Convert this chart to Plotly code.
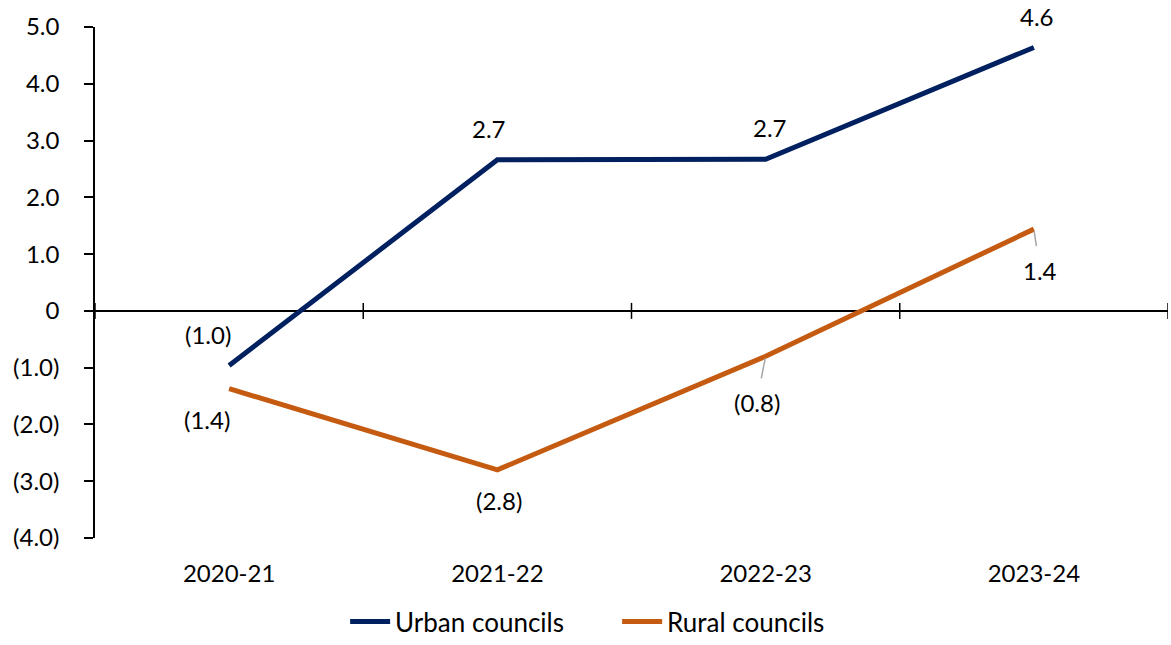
import plotly.graph_objects as go

# Financial years on the x axis
years = ["2020-21", "2021-22", "2022-23", "2023-24"]

# Net result by council type
urban = [-0.96, 2.66, 2.67, 4.64]
rural = [-1.37, -2.80, -0.80, 1.44]

# Y axis ticks, negatives shown in brackets
y_ticks = [5, 4, 3, 2, 1, 0, -1, -2, -3, -4]
y_tick_text = ["5.0", "4.0", "3.0", "2.0", "1.0", "0", "(1.0)", "(2.0)", "(3.0)", "(4.0)"]

NAVY = "#002060"
ORANGE = "#C55A11"
FONT = "Lato, Open Sans, sans-serif"
SIZE = 24


def fmt(v):
    s = f"{abs(v):.1f}"
    return f"({s})" if v < 0 else s


fig = go.Figure()
fig.add_trace(go.Scatter(x=years, y=urban, mode="lines", name="Urban councils",
                         line=dict(color=NAVY, width=5)))
fig.add_trace(go.Scatter(x=years, y=rural, mode="lines", name="Rural councils",
                         line=dict(color=ORANGE, width=5)))

# Data label offsets (pixels) and whether a leader line is drawn
urban_off = [(-21, -31, False), (-8, -31, False), (4, -32, False), (3, -31, False)]
rural_off = [(-22, 31, False), (2, 31, False), (-9, 46, True), (6, 41, True)]

annotations = []
for series, offs in ((urban, urban_off), (rural, rural_off)):
    for x, v, (dx, dy, leader) in zip(years, series, offs):
        if leader:
            annotations.append(dict(
                x=x, y=v, xref="x", yref="y", text=fmt(v), showarrow=True,
                ax=dx, ay=dy, arrowhead=0, arrowwidth=1.5, arrowcolor="#A6A6A6",
                standoff=2, startstandoff=8,
                font=dict(family=FONT, size=SIZE, color="#000000")))
        else:
            annotations.append(dict(
                x=x, y=v, xref="x", yref="y", text=fmt(v), showarrow=False,
                xshift=dx, yshift=-dy,
                font=dict(family=FONT, size=SIZE, color="#000000")))

# Cross-style tick marks on the zero line at category boundaries
shapes = []
for b in [i - 0.5 for i in range(len(years) + 1)]:
    shapes.append(dict(type="line", xref="x", yref="y", x0=b, x1=b,
                       ysizemode="pixel", yanchor=0, y0=-8, y1=8,
                       line=dict(color="#000000", width=1.5)))

fig.update_layout(
    width=1171, height=645,
    margin=dict(l=95, r=3, t=27, b=107),
    paper_bgcolor="white", plot_bgcolor="white",
    font=dict(family=FONT, size=SIZE, color="#000000"),
    showlegend=True,
    legend=dict(orientation="h", xref="container", x=0.527, xanchor="center",
                yref="container", y=0.0, yanchor="bottom",
                font=dict(family=FONT, size=26, color="#000000"),
                entrywidth=217, entrywidthmode="pixels",
                itemwidth=40, tracegroupgap=0),
    annotations=annotations,
    shapes=shapes,
)

fig.update_xaxes(type="category", range=[-0.5, 3.5], showline=False, showgrid=False,
                 zeroline=False, ticks="", ticklabelstandoff=19,
                 tickfont=dict(family=FONT, size=SIZE, color="#000000"))
fig.update_yaxes(range=[-4, 5], tickvals=y_ticks, ticktext=y_tick_text,
                 showline=True, linecolor="#000000", linewidth=1.5,
                 ticks="outside", ticklen=9, tickcolor="#000000", tickwidth=1.5,
                 ticklabelstandoff=20, showgrid=False,
                 zeroline=True, zerolinecolor="#000000", zerolinewidth=1.5,
                 tickfont=dict(family=FONT, size=SIZE, color="#000000"))

fig.write_html("out.html")
